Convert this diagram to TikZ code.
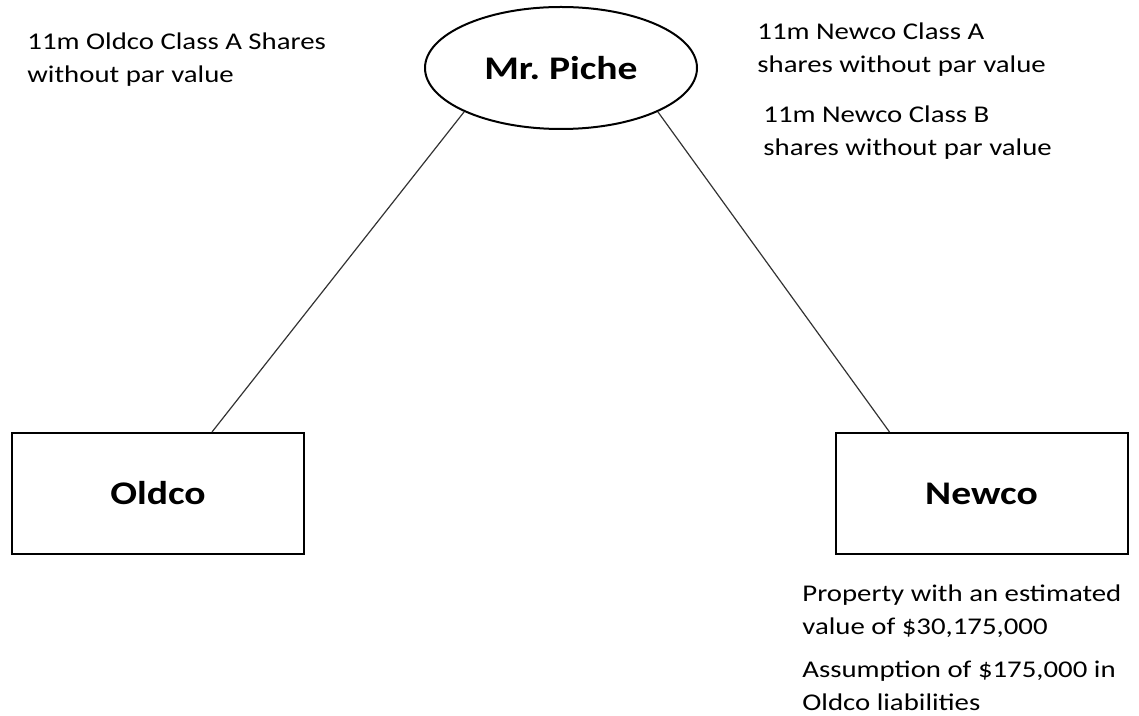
\documentclass[tikz,border=0pt]{standalone}
\usepackage{fontspec}
\setmainfont{Carlito}[FakeStretch=1.2]
\usetikzlibrary{shapes.geometric}
\begin{document}
\begin{tikzpicture}[x=0.5pt, y=-0.5pt,
    party/.style={draw, line width=1pt, minimum width=146pt, minimum height=60.5pt, inner sep=0pt, font=\fontsize{16.5}{19}\selectfont\bfseries},
    note/.style={anchor=north west, align=left, inner sep=0pt, font=\fontsize{12}{16.3}\selectfont},
    link/.style={line width=0.6pt, black!80}]
    \useasboundingbox (0,0) rectangle (1139,716);

    % Parties
    \node[party, ellipse, minimum width=136pt, minimum height=61pt] (piche) at (561,68) {Mr.\ Piche};
    \node[party] (oldco) at (158,493.5) {Oldco};
    \node[party] (newco) at (981.5,493.5) {Newco};

    % Consideration
    \node[note] (oldcoshares) at (27,32.5) {11m Oldco Class A Shares\\without par value};
    \node[note] (newcoA) at (757,22.5) {11m Newco Class A\\shares without par value};
    \node[note] (newcoB) at (763,105.5) {11m Newco Class B\\shares without par value};
    \node[note] (property) at (802,584.5) {Property with an estimated\\value of \$30,175,000};
    \node[note] (liabilities) at (802,661) {Assumption of \$175,000 in\\Oldco liabilities};

    % Lines
    \draw[link] (piche.south west) -- ([xshift=27pt]oldco.north);
    \draw[link] (piche.south east) -- ([xshift=-46pt]newco.north);
\end{tikzpicture}
\end{document}
